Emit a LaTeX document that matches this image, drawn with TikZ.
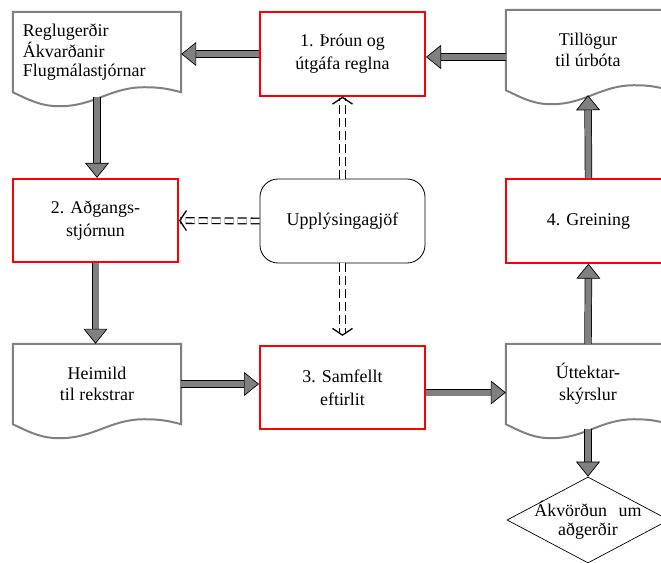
\documentclass[tikz,border=0pt]{standalone}
\usepackage{fontspec}
\setmainfont{Liberation Serif}
\usetikzlibrary{arrows.meta,calc,shapes.geometric}
% wavy bottom of a document node, plus a coordinate on the wave
\newcommand{\docwave}[1]{%
	\draw[docline] (#1.north east) -- (#1.north west) -- (#1.south west)
		to[out=-25,in=180] ($(#1.south west)!0.28!(#1.south east)+(0,14)$)
		to[out=0,in=180] ($(#1.south west)!0.78!(#1.south east)+(0,-5)$)
		to[out=0,in=165] (#1.south east) -- cycle;
	\coordinate (#1-w) at ($(#1.south)+(0,5)$);}
\tikzset{redbox/.style={draw=red,line width=1.7pt,minimum width=4.95cm,minimum height=2.5cm,align=center,font=\fontsize{15.3}{19.8}\selectfont}}
\tikzset{docbox/.style={minimum width=5.04cm,minimum height=2.4cm,inner sep=0pt,align=center}}
\tikzset{docline/.style={draw=gray,line width=1.7pt}}
\tikzset{infobox/.style={draw,rounded corners=0.54cm,line width=0.7pt,minimum width=4.95cm,minimum height=2.52cm}}
\tikzset{choice/.style={diamond,draw,line width=0.6pt,aspect=1.9,inner sep=-3pt,minimum width=4.86cm,minimum height=2.58cm,align=center,font=\fontsize{15.3}{16.5}\selectfont}}
\tikzset{fatarrow/.style={draw=black,line width=0.6pt,double=gray,double distance=0.18cm,-{Triangle[length=0.45cm,width=0.72cm,fill=gray]}}}
\tikzset{infoarrow/.style={draw=black,line width=1.1pt,double,double distance=0.13cm,dash pattern=on 0.27cm off 0.12cm,-{Straight Barb[length=0.2cm,width=0.6cm]}}}
\begin{document}
\begin{tikzpicture}[x=0.03cm,y=-0.03cm,every node/.append style={font=\fontsize{15.3}{18.5}\selectfont}]
	\useasboundingbox (0,0) rectangle (661,563);
	\clip (0,0) rectangle (661,563);

	\node[redbox] (b1) at (342.5,54) {1. Þróun og\\útgáfa reglna};
	\node[redbox] (b2) at (95.5,220.5) {2. Aðgangs-\\stjórnun};
	\node[redbox] (b3) at (342.5,387.5) {3. Samfellt\\eftirlit};
	\node[redbox] (b4) at (588.5,221) {4. Greining};
	\node[infobox] (upl) at (342.5,221) {Upplýsingagjöf};

	\node[docbox,align=left,text width=4.44cm,inner xsep=0.3cm,font=\fontsize{15.3}{16.2}\selectfont] (d1) at (97,52) {Reglugerðir\\Ákvarðanir\\Flugmálastjórnar};
	\node[docbox,minimum width=4.92cm] (d2) at (588,50) {Tillögur\\til úrbóta};
	\node[docbox] (d3) at (97,384) {Heimild\\til rekstrar};
	\node[docbox,minimum width=4.92cm] (d4) at (588,384) {Úttektar-\\skýrslur};
	\docwave{d1}
	\docwave{d2}
	\docwave{d3}
	\docwave{d4}

	\node[choice] (dia) at (588,520) {Ákvörðun\hspace{0.65em}um\\aðgerðir};

	% main flow
	\draw[fatarrow] (b1.west) -- (b1.west -| d1.east);
	\draw[fatarrow] ($(d2.west)+(0,7)$) coordinate (t2) -- (t2 -| b1.east);
	\draw[fatarrow] (d1-w) -- (d1-w |- b2.north);
	\draw[fatarrow] (b2.south) -- (b2.south |- d3.north);
	\draw[fatarrow] (d3.east) -- (d3.east -| b3.west);
	\draw[fatarrow] ($(b3.east)+(0,5)$) coordinate (t3) -- (t3 -| d4.west);
	\draw[fatarrow] (d4-w) -- (dia.north);
	\draw[fatarrow] (d4.north) -- (b4.south);
	\draw[fatarrow] (b4.north) -- (d2-w);

	% information
	\draw[infoarrow] (upl.north) -- (b1.south);
	\draw[infoarrow] (upl.west) -- (b2.east);
	\draw[infoarrow,shorten >=0.27cm] (upl.south) -- (b3.north);
\end{tikzpicture}
\end{document}
